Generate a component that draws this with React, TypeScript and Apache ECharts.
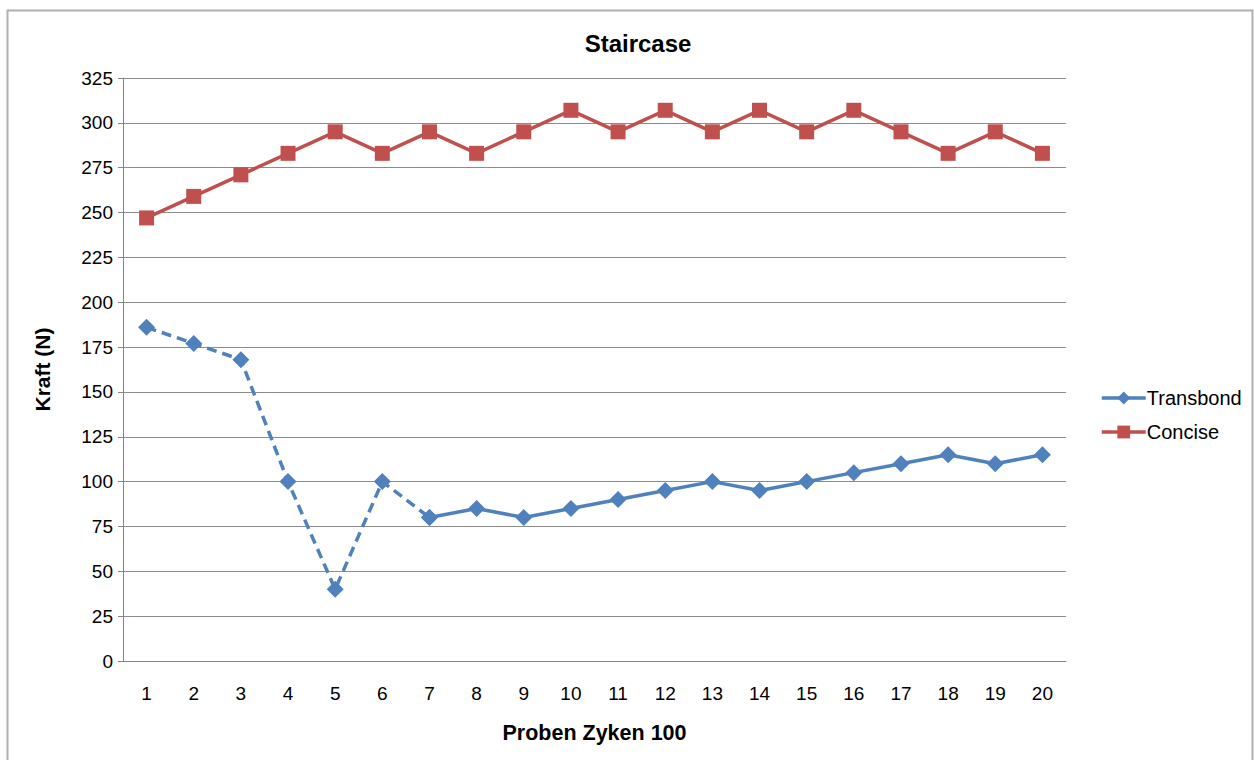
import React, { useEffect, useRef } from "react";
import * as echarts from "echarts";

// Sample numbers (Proben Zyken 100) and measured forces in N
const samples = ["1", "2", "3", "4", "5", "6", "7", "8", "9", "10", "11", "12", "13", "14", "15", "16", "17", "18", "19", "20"];
const transbond = [186, 177, 168, 100, 40, 100, 80, 85, 80, 85, 90, 95, 100, 95, 100, 105, 110, 115, 110, 115];
const concise = [247, 259, 271, 283, 295, 283, 295, 283, 295, 307, 295, 307, 295, 307, 295, 307, 295, 283, 295, 283];
// Transbond is drawn dashed up to and including this sample index
const dashedUntil = 6;

const BLUE = "#4F81BD";
const RED = "#C0504D";
const FONT = "Liberation Sans, Arial, sans-serif";

export default function App() {
  const ref = useRef<HTMLDivElement>(null);

  useEffect(() => {
    if (!ref.current) return;
    const chart = echarts.init(ref.current, null, { renderer: "svg" });

    const solidPart = transbond.map((v, i) => (i >= dashedUntil ? v : null));
    const dashedPart = transbond.map((v, i) => (i <= dashedUntil ? v : null));

    chart.setOption({
      animation: false,
      backgroundColor: "#ffffff",
      textStyle: { fontFamily: FONT },
      title: {
        text: "Staircase",
        left: 633,
        top: 26,
        textAlign: "center",
        textStyle: { fontFamily: FONT, fontSize: 24, fontWeight: "bold", color: "#000" },
      },
      graphic: [
        {
          type: "rect",
          shape: { x: 7.5, y: 10.5, width: 1245, height: 800 },
          style: { fill: "none", stroke: "#b0b0b0", lineWidth: 2 },
          silent: true,
        },
      ],
      legend: {
        orient: "vertical",
        left: 1095,
        top: 383,
        itemWidth: 44,
        itemHeight: 16,
        itemGap: 14,
        data: ["Transbond", "Concise"],
        lineStyle: { width: 3.5 },
        textStyle: { fontFamily: FONT, fontSize: 20, color: "#000", padding: [0, 0, 0, -4] },
      },
      grid: { left: 123, right: 188, top: 78, bottom: 99, containLabel: false },
      xAxis: {
        type: "category",
        data: samples,
        boundaryGap: true,
        name: "Proben Zyken 100",
        nameLocation: "middle",
        nameGap: 61,
        nameTextStyle: { fontFamily: FONT, fontSize: 21.5, fontWeight: "bold", color: "#000" },
        axisLine: { show: true, lineStyle: { color: "#868686", width: 1 } },
        axisTick: { show: false },
        axisLabel: { margin: 23, fontSize: 19, color: "#000", fontFamily: FONT },
        splitLine: { show: false },
      },
      yAxis: {
        type: "value",
        min: 0,
        max: 325,
        interval: 25,
        name: "Kraft (N)",
        nameLocation: "middle",
        nameGap: 70,
        nameRotate: 90,
        nameTextStyle: { fontFamily: FONT, fontSize: 21, fontWeight: "bold", color: "#000" },
        axisLine: { show: true, lineStyle: { color: "#868686", width: 1 } },
        axisTick: { show: true, length: 5, lineStyle: { color: "#868686" } },
        axisLabel: { margin: 10, fontSize: 19, color: "#000", fontFamily: FONT },
        splitLine: { show: true, lineStyle: { color: "#8c8c8c", width: 1 } },
      },
      series: [
        {
          name: "Transbond",
          type: "line",
          data: solidPart,
          connectNulls: false,
          symbol: "diamond",
          symbolSize: 17,
          showSymbol: true,
          itemStyle: { color: BLUE },
          lineStyle: { color: BLUE, width: 3.5 },
          z: 3,
        },
        {
          name: "Transbond",
          type: "line",
          data: dashedPart,
          connectNulls: false,
          symbol: "diamond",
          symbolSize: 17,
          showSymbol: true,
          itemStyle: { color: BLUE },
          lineStyle: { color: BLUE, width: 3.5, type: [10, 6] },
          z: 3,
        },
        {
          name: "Concise",
          type: "line",
          data: concise,
          symbol: "rect",
          symbolSize: 15,
          showSymbol: true,
          itemStyle: { color: RED },
          lineStyle: { color: RED, width: 3.5 },
          z: 2,
        },
      ],
    });

    return () => chart.dispose();
  }, []);

  return (
    <div
      ref={ref}
      style={{ position: "fixed", left: 0, top: 0, width: 1254, height: 760, background: "#fff" }}
    />
  );
}
